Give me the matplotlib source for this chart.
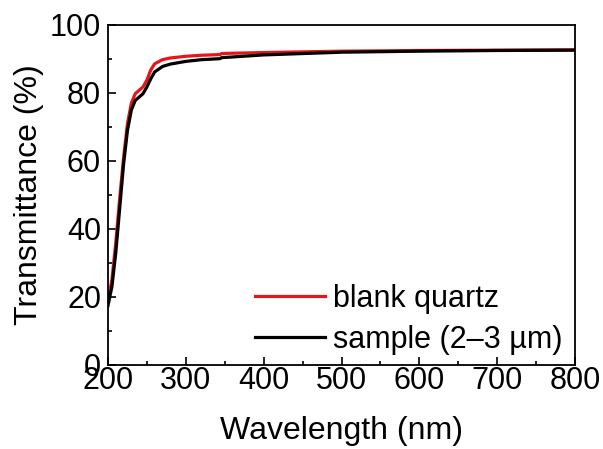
import matplotlib.pyplot as plt
from matplotlib.ticker import MultipleLocator

plt.rcParams['font.family'] = ['Liberation Sans', 'DejaVu Sans']

# wavelength grid (nm) and transmittance (%)
wl = [200, 205, 210, 215, 220, 225, 230, 235, 240, 245, 250, 255, 260, 270,
      280, 300, 320, 344, 346, 360, 400, 450, 500, 600, 700, 800]
blank = [18.5, 25, 36, 49, 61, 71, 77, 79.8, 80.8, 81.8, 83.8, 86.8, 88.6, 89.8,
         90.3, 90.8, 91.1, 91.3, 91.6, 91.7, 91.9, 92.1, 92.3, 92.5, 92.6, 92.7]
sample = [17.5, 23, 33, 46, 59, 69, 75, 77.8, 78.8, 79.8, 81.8, 84.2, 86.2, 87.8,
          88.5, 89.3, 89.8, 90.1, 90.4, 90.6, 91.2, 91.6, 92.0, 92.3, 92.5, 92.6]

fig = plt.figure(figsize=(6.03, 4.49), dpi=100)
ax = fig.add_axes([108 / 603, 1 - 365 / 449, 467 / 603, 340 / 449])

ax.plot(wl, blank, color='#e8141b', lw=2.3, label='blank quartz')
ax.plot(wl, sample, color='black', lw=2.3, label='sample (2\u20133 \u00b5m)')

ax.set_xlim(200, 800)
ax.set_ylim(0, 100)
ax.xaxis.set_major_locator(MultipleLocator(100))
ax.xaxis.set_minor_locator(MultipleLocator(50))
ax.yaxis.set_major_locator(MultipleLocator(20))
ax.yaxis.set_minor_locator(MultipleLocator(10))
ax.tick_params(which='both', direction='in', labelsize=22, width=1.2)
ax.tick_params(axis='x', pad=1)
ax.tick_params(axis='y', pad=5)
ax.tick_params(which='major', length=6)
ax.tick_params(which='minor', length=3)
for s in ax.spines.values():
    s.set_linewidth(1.3)

ax.set_xlabel('Wavelength (nm)', fontsize=23, labelpad=14)
ax.set_ylabel('Transmittance (%)', fontsize=23, labelpad=4)

ax.legend(loc='lower right', bbox_to_anchor=(1.005, -0.015), frameon=False,
          fontsize=22, handlelength=2.3, handletextpad=0.25, labelspacing=0.37,
          borderaxespad=0.3, borderpad=0.2)

fig.savefig('out.png', dpi=100)
